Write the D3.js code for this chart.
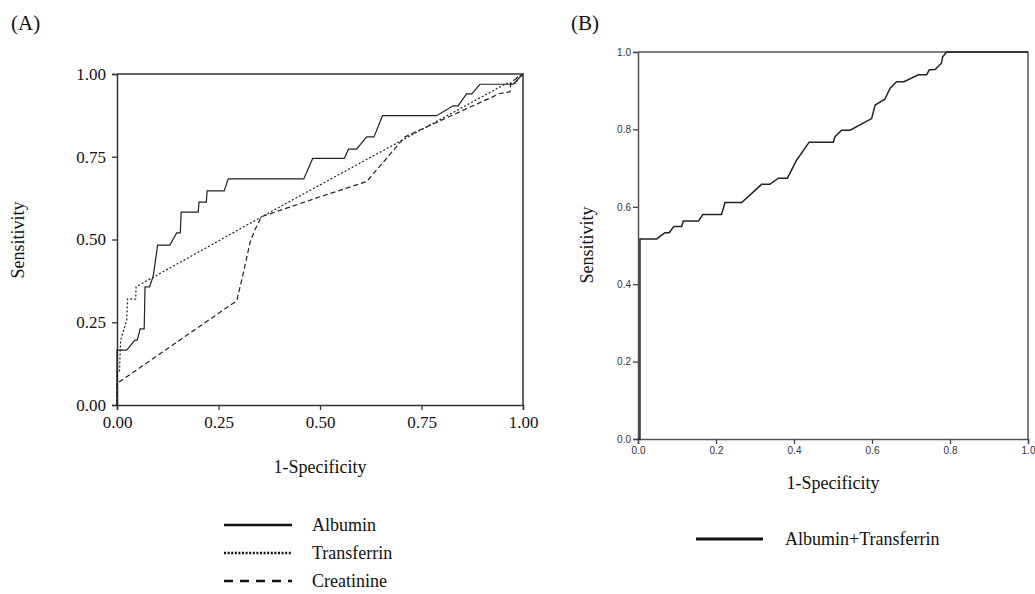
<!DOCTYPE html>
<html lang="en">
<head>
<meta charset="utf-8">
<script src="https://d3js.org/d3.v7.min.js"></script>
<style>
  body { margin: 0; background: #fff; }
  svg { display: block; }
  .serif { font-family: "Liberation Serif", "Times New Roman", serif; fill: #111; }
  .sans { font-family: "Liberation Sans", Arial, sans-serif; fill: #333; }
</style>
</head>
<body>
<script>
// ROC points, [1-specificity, sensitivity]
var albumin = [[0,0],[0,0.166],[0.024,0.166],[0.044,0.196],[0.05,0.196],[0.057,0.23],[0.067,0.23],
  [0.069,0.357],[0.08,0.357],[0.089,0.388],[0.094,0.43],[0.1,0.483],[0.13,0.483],[0.147,0.52],
  [0.156,0.52],[0.158,0.583],[0.2,0.583],[0.202,0.613],[0.22,0.613],[0.222,0.647],[0.264,0.647],
  [0.274,0.683],[0.46,0.683],[0.482,0.745],[0.56,0.745],[0.57,0.773],[0.59,0.773],[0.615,0.81],
  [0.633,0.81],[0.654,0.874],[0.787,0.874],[0.828,0.904],[0.84,0.904],[0.861,0.94],[0.874,0.94],
  [0.894,0.969],[0.976,0.969],[1,1]];
var transferrin = [[0,0],[0,0.1],[0.006,0.1],[0.009,0.196],[0.024,0.257],[0.026,0.32],[0.046,0.32],
  [0.047,0.357],[0.36,0.571],[0.5,0.665],[0.96,0.972],[0.985,0.972],[0.985,0.99],[1,1]];
var creatinine = [[0,0],[0,0.065],[0.295,0.315],[0.311,0.398],[0.328,0.493],[0.34,0.53],[0.356,0.569],
  [0.5,0.629],[0.615,0.675],[0.709,0.81],[0.943,0.941],[0.968,0.946],[0.97,0.975],[1,1]];
var combined = [[0,0],[0.005,0],[0.005,0.517],[0.048,0.517],[0.069,0.533],[0.08,0.533],[0.092,0.549],
  [0.112,0.549],[0.116,0.563],[0.155,0.563],[0.166,0.58],[0.214,0.58],[0.22,0.6],[0.223,0.611],
  [0.266,0.611],[0.317,0.658],[0.338,0.658],[0.36,0.674],[0.383,0.674],[0.407,0.721],[0.439,0.767],
  [0.501,0.767],[0.505,0.781],[0.522,0.798],[0.544,0.798],[0.599,0.828],[0.608,0.863],[0.633,0.878],
  [0.646,0.906],[0.663,0.923],[0.682,0.923],[0.719,0.941],[0.74,0.941],[0.747,0.954],[0.762,0.955],
  [0.778,0.971],[0.781,0.987],[0.791,1],[1,1]];

var ticksA = [0, 0.25, 0.5, 0.75, 1];
var ticksB = [0, 0.2, 0.4, 0.6, 0.8, 1];
var seriesA = ["Albumin", "Transferrin", "Creatinine"];
var seriesB = ["Albumin+Transferrin"];

var svg = d3.select("body").append("svg")
    .attr("width", 1035).attr("height", 594);

// ---------- panel A ----------
var xA = d3.scaleLinear().domain([0, 1]).range([117, 523]);
var yA = d3.scaleLinear().domain([0, 1]).range([405, 74]);

var axA = svg.append("g").attr("transform", "translate(0,405)")
    .call(d3.axisBottom(xA).tickValues(ticksA).tickFormat(d3.format(".2f")).tickSizeOuter(0).tickSize(5).tickPadding(6));
var ayA = svg.append("g").attr("transform", "translate(117,0)")
    .call(d3.axisLeft(yA).tickValues(ticksA).tickFormat(d3.format(".2f")).tickSizeOuter(0).tickSize(5).tickPadding(6));
[axA, ayA].forEach(function(g) {
  g.select(".domain").attr("stroke", "#333").attr("stroke-width", 1.5);
  g.selectAll(".tick line").attr("stroke", "#333").attr("stroke-width", 1.3);
  g.selectAll("text").attr("class", "serif").attr("font-size", 17).attr("fill", "#111");
});
svg.append("path")
    .attr("d", "M" + xA(0) + "," + yA(1) + "H" + xA(1) + "V" + yA(0))
    .attr("fill", "none").attr("stroke", "#333").attr("stroke-width", 1.5);

var lineA = d3.line().x(function(d) { return xA(d[0]); }).y(function(d) { return yA(d[1]); });
var dashA = {"Albumin": null, "Transferrin": "2,2", "Creatinine": "5,3"};
var dataA = {"Albumin": albumin, "Transferrin": transferrin, "Creatinine": creatinine};

seriesA.forEach(function(s) {
  svg.append("path").datum(dataA[s])
      .attr("d", lineA)
      .attr("fill", "none").attr("stroke", "#222").attr("stroke-width", 1.2)
      .attr("stroke-dasharray", dashA[s]);
});

svg.append("text").attr("class", "serif").attr("font-size", 21)
    .attr("x", 11).attr("y", 30).text("(A)");
svg.append("text").attr("class", "serif").attr("font-size", 18)
    .attr("transform", "translate(24,240) rotate(-90)")
    .attr("text-anchor", "middle").text("Sensitivity");
svg.append("text").attr("class", "serif").attr("font-size", 18)
    .attr("x", 320).attr("y", 473).attr("text-anchor", "middle").text("1-Specificity");

// legend A
var legDash = {"Albumin": null, "Transferrin": "2,1.6", "Creatinine": "9,7"};
seriesA.forEach(function(s, i) {
  var y = 525 + i * 28;
  svg.append("line").attr("x1", 224).attr("x2", 292).attr("y1", y).attr("y2", y)
      .attr("stroke", "#111").attr("stroke-width", 2.5).attr("stroke-dasharray", legDash[s]);
  svg.append("text").attr("class", "serif").attr("font-size", 18)
      .attr("x", 312).attr("y", y).attr("dy", "0.35em").text(s);
});

// ---------- panel B ----------
var xB = d3.scaleLinear().domain([0, 1]).range([638, 1028]);
var yB = d3.scaleLinear().domain([0, 1]).range([439, 52]);

var axB = svg.append("g").attr("transform", "translate(0,439)")
    .call(d3.axisBottom(xB).tickValues(ticksB).tickFormat(d3.format(".1f")).tickSizeOuter(0).tickSize(5).tickPadding(3));
var ayB = svg.append("g").attr("transform", "translate(638,0)")
    .call(d3.axisLeft(yB).tickValues(ticksB).tickFormat(d3.format(".1f")).tickSizeOuter(0).tickSize(5).tickPadding(2));
[axB, ayB].forEach(function(g) {
  g.select(".domain").attr("stroke", "#555").attr("stroke-width", 1.5);
  g.selectAll(".tick line").attr("stroke", "#444").attr("stroke-width", 1.3);
  g.selectAll("text").attr("class", "sans").attr("font-size", 10).attr("fill", "#333");
});
svg.append("path")
    .attr("d", "M" + xB(0) + "," + yB(1) + "H" + xB(1) + "V" + yB(0))
    .attr("fill", "none").attr("stroke", "#555").attr("stroke-width", 1.5);

var lineB = d3.line().x(function(d) { return xB(d[0]); }).y(function(d) { return yB(d[1]); });
svg.append("path").datum(combined)
    .attr("d", lineB)
    .attr("fill", "none").attr("stroke", "#222").attr("stroke-width", 1.5);

svg.append("text").attr("class", "serif").attr("font-size", 21)
    .attr("x", 571).attr("y", 30).text("(B)");
svg.append("text").attr("class", "serif").attr("font-size", 18)
    .attr("transform", "translate(593,245) rotate(-90)")
    .attr("text-anchor", "middle").text("Sensitivity");
svg.append("text").attr("class", "serif").attr("font-size", 18)
    .attr("x", 833).attr("y", 489).attr("text-anchor", "middle").text("1-Specificity");

seriesB.forEach(function(s, i) {
  var y = 539 + i * 28;
  svg.append("line").attr("x1", 696).attr("x2", 763).attr("y1", y).attr("y2", y)
      .attr("stroke", "#111").attr("stroke-width", 2.8);
  svg.append("text").attr("class", "serif").attr("font-size", 18)
      .attr("x", 785).attr("y", y).attr("dy", "0.35em").text(s);
});
</script>
</body>
</html>
